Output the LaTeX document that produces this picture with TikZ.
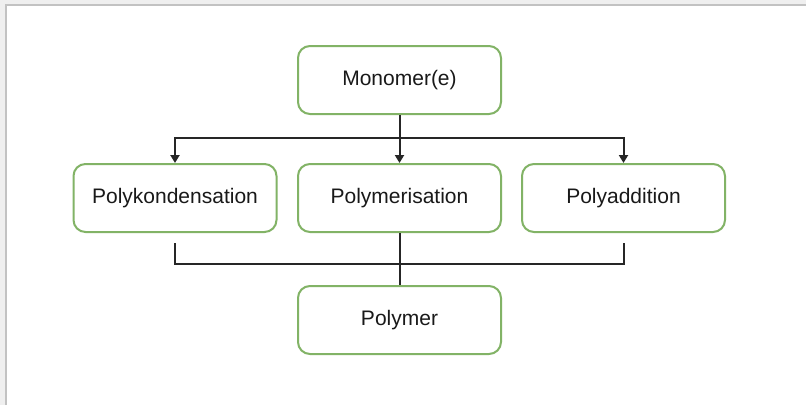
\documentclass[tikz,border=0pt]{standalone}
\usepackage{fontspec}
\setmainfont{Liberation Sans}
\usetikzlibrary{arrows.meta,positioning}
\definecolor{boxgreen}{HTML}{82B366}
\definecolor{framegray}{HTML}{C2C2C2}
\definecolor{outergray}{HTML}{EFEFEF}
\tikzset{
        stage/.style={draw=boxgreen, line width=2pt, rounded corners=12pt, fill=white,
                minimum width=203pt, minimum height=68pt, inner sep=0pt,
                font=\fontsize{21}{25}\selectfont, text=black!90},
        link/.style={line width=2pt, draw=black!85},
        tip/.style={-{Triangle[width=9pt,length=8pt]}},
}
\begin{document}
\begin{tikzpicture}[x=1pt,y=-1pt]
        \useasboundingbox (0,0) rectangle (806,405);
        \fill[outergray] (0,0) rectangle (806,405);
        \fill[white] (6,5) rectangle (806,405);
        \draw[framegray, line width=2pt] (6,405) -- (6,5) -- (806,5);

        \node[stage] (mono) at (399.5,80) {Monomer(e)};
        \node[stage] (pk) at (175,198) {Polykondensation};
        \node[stage] (pm) at (399.5,198) {Polymerisation};
        \node[stage] (pa) at (623.5,198) {Polyaddition};
        \node[stage] (poly) at (399.5,320) {Polymer};

        \draw[link,tip] (mono.south) -- ++(0,23) -| (pk.north);
        \draw[link,tip] (mono.south) -- (pm.north);
        \draw[link,tip] (mono.south) -- ++(0,23) -| (pa.north);

        \draw[link] ([yshift=-10pt]pk.south) -- ++(0,21) -| (poly.north);
        \draw[link] (pm.south) -- (poly.north);
        \draw[link] ([yshift=-10pt]pa.south) -- ++(0,21) -| (poly.north);
\end{tikzpicture}
\end{document}
